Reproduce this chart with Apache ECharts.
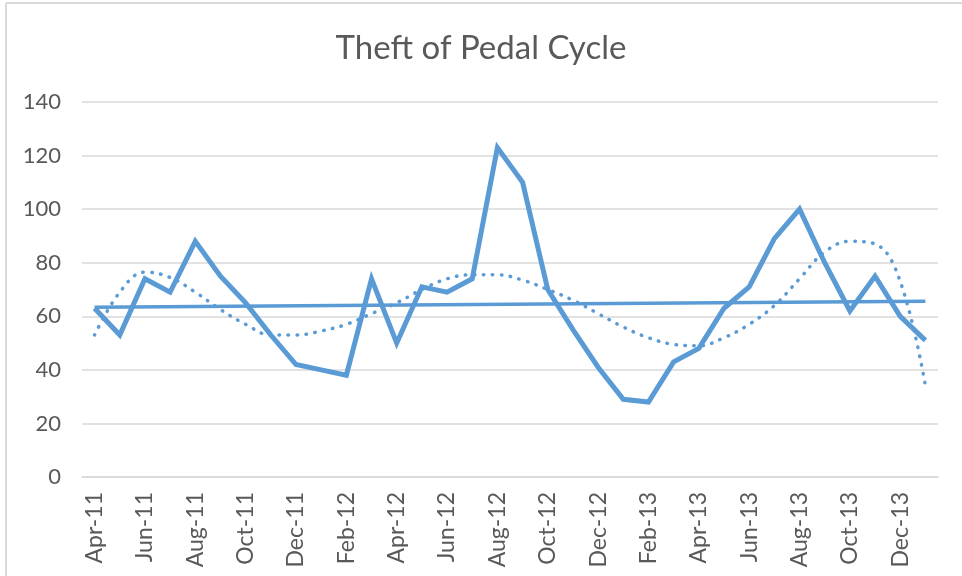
<!DOCTYPE html>
<html>
<head>
<meta charset="utf-8">
<script src="https://cdn.jsdelivr.net/npm/echarts@6/dist/echarts.min.js"></script>
<style>
  html, body { margin: 0; padding: 0; background: #fff; }
  #chart { width: 962px; height: 576px; }
</style>
</head>
<body>
<div id="chart"></div>
<script>
// months, Apr-11 .. Jan-14
var months = ['Apr-11','May-11','Jun-11','Jul-11','Aug-11','Sep-11','Oct-11','Nov-11','Dec-11',
  'Jan-12','Feb-12','Mar-12','Apr-12','May-12','Jun-12','Jul-12','Aug-12','Sep-12','Oct-12','Nov-12','Dec-12',
  'Jan-13','Feb-13','Mar-13','Apr-13','May-13','Jun-13','Jul-13','Aug-13','Sep-13','Oct-13','Nov-13','Dec-13',
  'Jan-14']
// theft counts
var thefts = [63,53,74,69,88,75,65,53,42,
  40,38,74,50,71,69,74,123,110,70,55,41,
  29,28,43,48,63,71,89,100,80,62,75,60,
  51]
// dotted trendline (polynomial)
var polyTrend = [53,69,76.5,74.5,69,62.5,57,53,53,
  54.5,57,61,65,70,74,75.5,75.5,73.5,70,66,61,
  56,52,49.5,49,52,57,64,74,84,88,87,73,
  34]
// solid trendline (linear): ends only
var linTrend = [63.4,null,null,null,null,null,null,null,null,
  null,null,null,null,null,null,null,null,null,null,null,null,
  null,null,null,null,null,null,null,null,null,null,null,null,
  65.6]
var yTicks = [0, 140, 20]  // min, max, step

var blue = '#5B9BD5'
var txt = '#595959'
var font = 'Lato'

var myChart = echarts.init(document.getElementById('chart'))

var option = {
    animation: false,
    title: {
        text: 'Theft of Pedal Cycle',
        left: 'center',
        top: 27,
        textStyle: { fontFamily: font, fontSize: 33, fontWeight: 'normal', color: txt }
    },
    graphic: [
        { type: 'line', shape: { x1: 6, y1: 3, x2: 962, y2: 3 }, style: { stroke: '#d9d9d9', lineWidth: 2 } },
        { type: 'line', shape: { x1: 6, y1: 3, x2: 6, y2: 576 }, style: { stroke: '#d9d9d9', lineWidth: 2 } }
    ],
    grid: { left: 82, right: 24, top: 102, bottom: 99 },
    xAxis: {
        type: 'category',
        data: months,
        boundaryGap: true,
        axisTick: { show: false },
        axisLine: { lineStyle: { color: '#d9d9d9', width: 1.5 } },
        axisLabel: {
            interval: 1,
            rotate: 90,
            margin: 15,
            color: txt,
            fontFamily: font,
            fontSize: 23
        }
    },
    yAxis: {
        type: 'value',
        min: yTicks[0],
        max: yTicks[1],
        interval: yTicks[2],
        axisLine: { show: false },
        axisTick: { show: false },
        splitLine: { lineStyle: { color: '#d9d9d9', width: 1.5 } },
        axisLabel: { margin: 21, color: txt, fontFamily: font, fontSize: 22 }
    },
    series: [
        {
            name: 'Theft of Pedal Cycle',
            type: 'line',
            data: thefts,
            symbol: 'none',
            lineStyle: { color: blue, width: 5, join: 'miter' },
            z: 3
        },
        {
            name: 'Linear trend',
            type: 'line',
            data: linTrend,
            connectNulls: true,
            symbol: 'none',
            lineStyle: { color: blue, width: 3.5 },
            z: 2
        },
        {
            name: 'Poly trend',
            type: 'line',
            data: polyTrend,
            smooth: 0.4,
            symbol: 'none',
            lineStyle: { color: blue, width: 3.5, type: [0.5, 8.5], cap: 'round' },
            z: 2
        }
    ]
}

myChart.setOption(option)
</script>
</body>
</html>
